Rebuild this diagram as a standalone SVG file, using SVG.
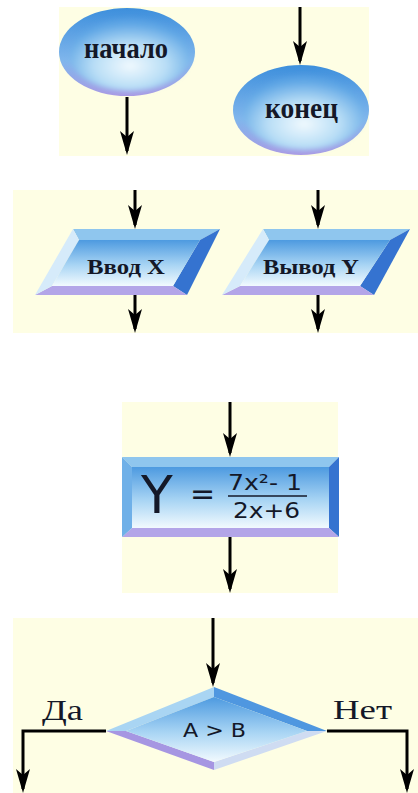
<svg xmlns="http://www.w3.org/2000/svg" width="418" height="793" viewBox="0 0 418 793">
<defs>
<style>
.panel{fill:#fefee4}
.ser{font-family:"Liberation Serif","DejaVu Serif",serif;fill:#141828}
.san{font-family:"DejaVu Sans","Open Sans",sans-serif;fill:#141828}
.con{stroke:#000;stroke-width:3;fill:none}
.bt{fill:#8fc6ee}.br{fill:#3573d0}.bb{fill:#b3a5e8}.bl{fill:#d6ebfa}
</style>
<linearGradient id="face" x1="0" y1="0" x2="0" y2="1">
<stop offset="0" stop-color="#4d9ae0"/><stop offset="0.55" stop-color="#a9d5f4"/><stop offset="1" stop-color="#f2fafe"/>
</linearGradient>
<linearGradient id="ellOut" x1="0" y1="0" x2="0" y2="1">
<stop offset="0" stop-color="#3d8fdc"/><stop offset="0.6" stop-color="#80b6ec"/><stop offset="1" stop-color="#a99ae4"/>
</linearGradient>
<radialGradient id="ellIn" cx="0.5" cy="0.65" r="0.6">
<stop offset="0" stop-color="#f0f9fe"/><stop offset="0.5" stop-color="#b9def6"/><stop offset="1" stop-color="#5aa3e4"/>
</radialGradient>
<filter id="soft" x="-10%" y="-10%" width="120%" height="120%"><feGaussianBlur stdDeviation="2.5"/></filter>
<marker id="ah" markerUnits="userSpaceOnUse" markerWidth="26" markerHeight="16" viewBox="-22 -8 26 16" refX="0" refY="0" orient="auto">
<path d="M4,0 L-20,-7 L-14,0 L-20,7 Z" fill="#000"/>
</marker>
</defs>

<rect class="panel" x="59" y="7" width="310" height="149"/>
<rect class="panel" x="13" y="190" width="405" height="143"/>
<rect class="panel" x="122" y="402" width="216" height="191"/>
<rect class="panel" x="13" y="618" width="405" height="175"/>

<g id="connectors">
<line class="con" x1="127" y1="97" x2="127" y2="151" marker-end="url(#ah)"/>
<line class="con" x1="300" y1="7" x2="300" y2="61" marker-end="url(#ah)"/>
<line class="con" x1="135" y1="190" x2="135" y2="225" marker-end="url(#ah)"/>
<line class="con" x1="135" y1="295" x2="135" y2="329" marker-end="url(#ah)"/>
<line class="con" x1="318" y1="190" x2="318" y2="225" marker-end="url(#ah)"/>
<line class="con" x1="318" y1="295" x2="318" y2="329" marker-end="url(#ah)"/>
<line class="con" x1="230" y1="402" x2="230" y2="453" marker-end="url(#ah)"/>
<line class="con" x1="230" y1="537" x2="230" y2="589" marker-end="url(#ah)"/>
<line class="con" x1="213" y1="618" x2="213" y2="683" marker-end="url(#ah)"/>
<polyline class="con" points="106,731 23,731 23,789" marker-end="url(#ah)"/>
<polyline class="con" points="327,731 407,731 407,789" marker-end="url(#ah)"/>
</g>

<g id="start">
<ellipse cx="127" cy="52" rx="68" ry="44" fill="url(#ellOut)"/>
<ellipse cx="130" cy="55" rx="60" ry="36" fill="url(#ellIn)" filter="url(#soft)"/>
<text class="ser" x="84" y="58" font-size="30" font-weight="bold" textLength="84" lengthAdjust="spacingAndGlyphs">начало</text>
</g>

<g id="end">
<ellipse cx="301" cy="110" rx="68" ry="45" fill="url(#ellOut)"/>
<ellipse cx="304" cy="113" rx="60" ry="37" fill="url(#ellIn)" filter="url(#soft)"/>
<text class="ser" x="265" y="118" font-size="30" font-weight="bold" textLength="73" lengthAdjust="spacingAndGlyphs">конец</text>
</g>

<g id="input">
<polygon class="bt" points="73,229 220,229 200,240 79,240"/>
<polygon class="br" points="220,229 187,295 173,286 200,240"/>
<polygon class="bb" points="187,295 35,295 52,286 173,286"/>
<polygon class="bl" points="35,295 73,229 79,240 52,286"/>
<polygon points="79,240 200,240 173,286 52,286" fill="url(#face)"/>
<text class="ser" x="87" y="274" font-size="22" font-weight="bold" textLength="78" lengthAdjust="spacingAndGlyphs">Ввод X</text>
</g>

<g id="output">
<polygon class="bt" points="263,229 410,229 390,240 269,240"/>
<polygon class="br" points="410,229 374,295 360,286 390,240"/>
<polygon class="bb" points="374,295 222,295 240,286 360,286"/>
<polygon class="bl" points="222,295 263,229 269,240 240,286"/>
<polygon points="269,240 390,240 360,286 240,286" fill="url(#face)"/>
<text class="ser" x="263" y="274" font-size="22" font-weight="bold" textLength="96" lengthAdjust="spacingAndGlyphs">Вывод Y</text>
</g>

<g id="process">
<polygon class="bt" points="122,457 339,457 329,467 132,467"/>
<polygon class="br" points="339,457 339,537 329,528 329,467"/>
<polygon class="bb" points="339,537 122,537 132,528 329,528"/>
<polygon points="122,537 122,457 132,467 132,528" fill="#6fb0e8"/>
<rect x="132" y="467" width="197" height="61" fill="url(#face)"/>
<text class="san" x="141" y="513" font-size="52">Y</text>
<text class="san" x="190" y="504" font-size="30">=</text>
<text class="san" x="228" y="490" font-size="22" textLength="74" lengthAdjust="spacingAndGlyphs">7x²- 1</text>
<line x1="228" y1="496" x2="307" y2="496" stroke="#141828" stroke-width="1.5"/>
<text class="san" x="233" y="518" font-size="22" textLength="67" lengthAdjust="spacingAndGlyphs">2x+6</text>
</g>

<g id="decision">
<polygon points="214,687 106,731 126,731 214,697" fill="#a9d5f3"/>
<polygon points="214,687 327,731 307,731 214,697" fill="#4f97e0"/>
<polygon points="327,731 214,770 214,762 307,731" fill="#cfdcf2"/>
<polygon points="214,770 106,731 126,731 214,762" fill="#a696e2"/>
<polygon points="214,697 307,731 214,762 126,731" fill="url(#face)"/>
<text class="san" x="183" y="737" font-size="19" textLength="63" lengthAdjust="spacingAndGlyphs">A &gt; B</text>
<text class="ser" x="42" y="720" font-size="29" textLength="41" lengthAdjust="spacingAndGlyphs">Да</text>
<text class="ser" x="333" y="719" font-size="28" textLength="59" lengthAdjust="spacingAndGlyphs">Нет</text>
</g>
</svg>
